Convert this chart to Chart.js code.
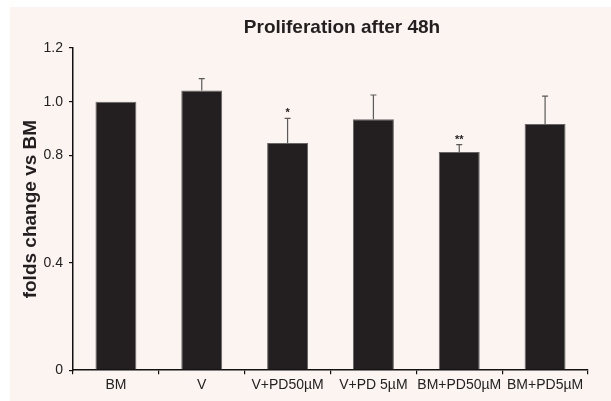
<!DOCTYPE html>
<html>
<head>
<meta charset="utf-8">
<script src="https://cdn.jsdelivr.net/npm/chart.js@4/dist/chart.umd.min.js"></script>
<style>
  html, body { margin: 0; padding: 0; background: #fff; }
  #wrap { width: 611px; height: 401px; }
</style>
</head>
<body>
<div id="wrap"><canvas id="myChart" width="611" height="401"></canvas></div>
<script>
const labels = ["BM", "V", "V+PD50\u00b5M", "V+PD 5\u00b5M", "BM+PD50\u00b5M", "BM+PD5\u00b5M"];
const values = [1.0, 1.042, 0.846, 0.935, 0.813, 0.917];
const errUp = [0, 0.044, 0.092, 0.09, 0.027, 0.104];
const stars = ["", "", "*", "", "**", ""];
const yTicks = [0, 0.4, 0.8, 1.0, 1.2];
const chartTitle = "Proliferation after 48h";

const FONT = "'Liberation Sans', Arial, sans-serif";

// pink paper behind the chart, white strip at top and left, plus the title
const paperBg = {
    id: "paperBg",
    beforeDraw(chart) {
        const ctx = chart.ctx;
        ctx.save();
        ctx.fillStyle = "#ffffff";
        ctx.fillRect(0, 0, chart.width, chart.height);
        ctx.fillStyle = "#fcf4f1";
        ctx.fillRect(10, 7, chart.width - 10, chart.height - 7);
        ctx.fillStyle = "#231f20";
        ctx.font = "bold 19px " + FONT;
        ctx.textAlign = "center";
        ctx.textBaseline = "middle";
        ctx.fillText(chartTitle, 342, 28);
        ctx.restore();
    }
};

// upward error bars + significance stars
const errorBars = {
    id: "errorBars",
    afterDatasetsDraw(chart) {
        const ctx = chart.ctx;
        const meta = chart.getDatasetMeta(0);
        const y = chart.scales.y;
        ctx.save();
        meta.data.forEach(function (bar, i) {
            const top = y.getPixelForValue(values[i] + errUp[i]);
            if (errUp[i] > 0) {
                ctx.strokeStyle = "#5a5a5a";
                ctx.lineWidth = 1.2;
                ctx.beginPath();
                ctx.moveTo(bar.x, bar.y);
                ctx.lineTo(bar.x, top);
                ctx.moveTo(bar.x - 3, top);
                ctx.lineTo(bar.x + 3, top);
                ctx.stroke();
            }
            if (stars[i]) {
                ctx.fillStyle = "#222";
                ctx.font = "bold 11px " + FONT;
                ctx.textAlign = "center";
                ctx.textBaseline = "middle";
                ctx.fillText(stars[i], bar.x, top - 5);
            }
        });
        ctx.restore();
    }
};

const data = {
    labels: labels,
    datasets: [{
        data: values,
        backgroundColor: "#231f20",
        borderColor: "#666666",
        borderWidth: 1,
        barPercentage: 0.53,
        categoryPercentage: 0.9
    }]
};

const config = {
    type: "bar",
    data: data,
    plugins: [paperBg, errorBars],
    options: {
        responsive: false,
        animation: false,
        layout: { padding: { top: 48, right: 23, bottom: 4, left: 0 } },
        plugins: {
            legend: { display: false },
            tooltip: { enabled: false },
            title: { display: false }
        },
        scales: {
            x: {
                border: { color: "#111", width: 1.5 },
                grid: { drawOnChartArea: false, color: "#111", tickLength: 4, lineWidth: 1.2 },
                ticks: {
                    color: "#222",
                    font: { family: FONT, size: 14 },
                    padding: 3,
                    maxRotation: 0,
                    autoSkip: false
                }
            },
            y: {
                min: 0,
                max: 1.2,
                afterBuildTicks(scale) {
                    scale.ticks = yTicks.map(v => ({ value: v }));
                },
                afterFit(scale) {
                    scale.width = 73;
                },
                border: { color: "#111", width: 1.5 },
                grid: { drawOnChartArea: false, color: "#111", tickLength: 4, lineWidth: 1.2 },
                ticks: {
                    color: "#222",
                    font: { family: FONT, size: 14 },
                    padding: 6,
                    callback: function (v) {
                        return v === 0 ? "0" : v.toFixed(1);
                    }
                },
                title: {
                    display: true,
                    text: "folds change vs BM",
                    color: "#231f20",
                    font: { family: FONT, size: 19, weight: "bold" },
                    padding: { top: 19, bottom: 0 }
                }
            }
        }
    }
};

const myChart = new Chart(document.getElementById("myChart"), config);
</script>
</body>
</html>
